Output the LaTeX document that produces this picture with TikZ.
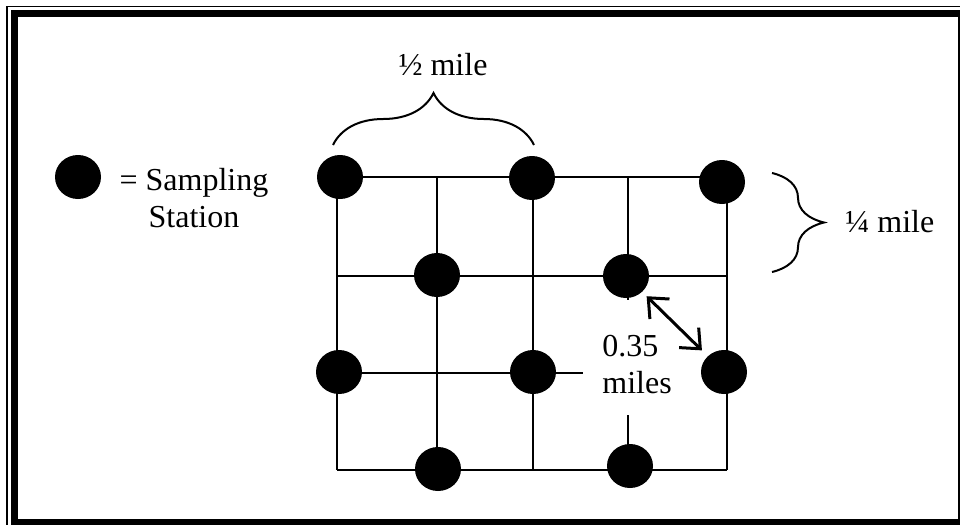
\documentclass[tikz,border=0pt]{standalone}
\usepackage{fontspec}
\setmainfont{Liberation Serif}
\usetikzlibrary{arrows.meta,shapes.geometric,decorations.pathreplacing}

\begin{document}
\begin{tikzpicture}[
  x=0.5pt, y=-0.5pt,
  font=\fontsize{16}{18.5}\selectfont,
  station/.style={ellipse, fill=black, inner sep=0pt,
                  minimum width=23pt, minimum height=22pt},
  gridln/.style={line width=1pt},
  arr/.style={{Straight Barb[length=8pt,width=14pt]}-{Straight Barb[length=8pt,width=14pt]},
              line width=1.5pt},
  brc/.style={decorate, decoration={brace, amplitude=26pt}, line width=1pt},
  lbl/.style={inner sep=0pt, align=center},
]

\useasboundingbox (0,0) rectangle (960,525);
\clip (0,0) rectangle (960,525);

% ---------------- frame ---------------------------------------------
\draw[line width=0.75pt] (7,6.5) rectangle (975,540);
\draw[line width=3.5pt] (14.5,13.5) rectangle (961.5,522.5);

% ---------------- grid of roads -------------------------------------
\draw[gridln] (337,177) -- (722,177);
\draw[gridln] (337,276) -- (727,276);
\draw[gridln] (337,373) -- (583,373);
\draw[gridln] (337,470) -- (727,470);
\foreach \x in {337,437,533}
  \draw[gridln] (\x,177) -- (\x,470);
\draw[gridln] (628,177) -- (628,300);
\draw[gridln] (628,415) -- (628,466);
\draw[gridln] (727,182) -- (727,470);

% ---------------- sampling stations ---------------------------------
\node[station] (s11) at (340,177) {};
\node[station] (s13) at (532,178) {};
\node[station] (s15) at (722,182) {};
\node[station] (s22) at (437,275) {};
\node[station] (s24) at (626,276) {};
\node[station] (s31) at (339,372) {};
\node[station] (s33) at (533,372) {};
\node[station] (s35) at (724,372) {};
\node[station] (s42) at (438,469) {};
\node[station] (s44) at (630,466) {};

% diagonal spacing
\draw[arr, shorten <=3pt, shorten >=4pt] (s24) -- (s35);
\node[lbl, align=left, anchor=west] (diag) at (602,365) {0.35\\miles};

% ---------------- legend --------------------------------------------
\node[station] (key) at (78,177) {};
\node[lbl] (keytxt) at (194,198) {= Sampling\\Station};

% ---------------- spacing braces ------------------------------------
\coordinate (hb1) at (333,145);
\coordinate (hb2) at (534,145);
\draw[brc] (hb1) -- (hb2);
\node[lbl] (half) at (443,65) {½ mile};

\coordinate (vb1) at (772,173);
\coordinate (vb2) at (772,272);
\draw[brc] (vb1) -- (vb2);
\node[lbl, anchor=west] (quarter) at (845,222) {¼ mile};

\end{tikzpicture}
\end{document}
